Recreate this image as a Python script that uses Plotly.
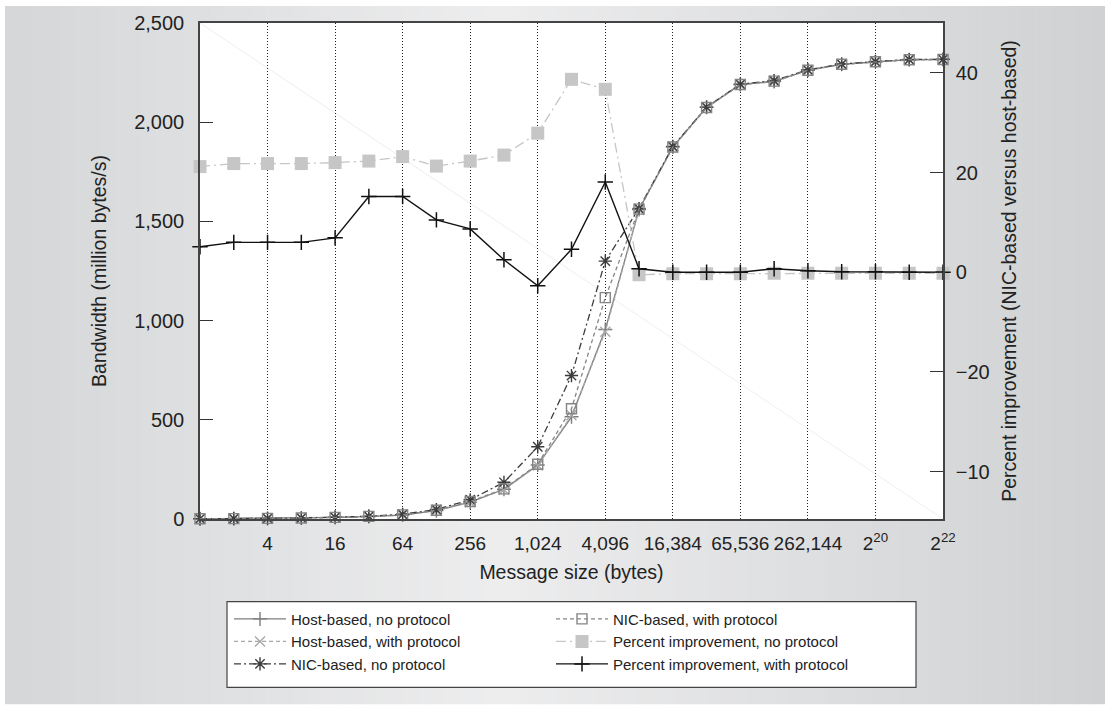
import plotly.graph_objects as go

# ---------------- data ----------------
message_sizes = [1, 2, 4, 8, 16, 32, 64, 128, 256, 512, 1024, 2048, 4096, 8192,
                 16384, 32768, 65536, 131072, 262144, 524288, 1048576, 2097152, 4194304]

host_no_protocol = [1, 2, 3, 5, 8, 12, 20, 42, 85, 150, 272, 515, 955, 1560,
                    1875, 2075, 2190, 2205, 2262, 2292, 2305, 2315, 2316]
host_with_protocol = [1, 2, 3, 5, 8, 12, 20, 42, 85, 148, 270, 523, 944, 1558,
                      1873, 2073, 2188, 2204, 2261, 2291, 2304, 2314, 2315]
nic_no_protocol = [1, 2, 3, 5, 9, 14, 24, 48, 97, 185, 364, 723, 1300, 1565,
                   1878, 2076, 2192, 2210, 2264, 2293, 2306, 2316, 2317]
nic_with_protocol = [1, 2, 3, 5, 8, 13, 21, 44, 88, 152, 276, 556, 1116, 1562,
                     1875, 2074, 2190, 2207, 2262, 2292, 2305, 2315, 2316]

pct_no_protocol = [21.2, 21.8, 21.8, 21.8, 22.0, 22.3, 23.2, 21.3, 22.3, 23.5, 27.9,
                   38.7, 36.7, -0.5, -0.3, -0.3, -0.3, -0.2, -0.2, -0.2, -0.2, -0.2, -0.2]
pct_with_protocol = [5.1, 6.0, 6.0, 6.0, 6.9, 15.2, 15.2, 10.5, 8.7, 2.5, -2.7,
                     4.6, 18.1, 0.7, 0.0, 0.0, 0.0, 0.7, 0.3, 0.1, 0.1, 0.0, 0.0]

x_tick_vals = [4, 16, 64, 256, 1024, 4096, 16384, 65536, 262144, 1048576, 4194304]
x_tick_text = ["4", "16", "64", "256", "1,024", "4,096", "16,384", "65,536",
               "262,144", "2<sup>20</sup>", "2<sup>22</sup>"]
y2_tick_vals = [40, 20, 0, -20, -40]
y2_tick_text = ["40", "20", "0", "\u221220", "\u221210"]

FONT = "Liberation Sans, Arial, Helvetica, sans-serif"
W, H = 1105, 705
ML, MR, MT, MB = 200, 162, 21, 186
PW, PH = W - ML - MR, H - MT - MB

fig = go.Figure()


def add(name, y, yaxis, color, dash, symbol, msize, rank, lw=1.3, mlw=1.4, mcolor=None):
    fig.add_trace(go.Scatter(
        x=message_sizes, y=y, name=name, yaxis=yaxis, mode="lines+markers",
        line=dict(color=color, width=lw, dash=dash),
        marker=dict(symbol=symbol, size=msize, color=mcolor or color,
                    line=dict(width=mlw, color=mcolor or color)),
        legendrank=rank, cliponaxis=False,
    ))


add("Host-based, no protocol", host_no_protocol, "y", "#7c7c7c", "solid",
    "cross-thin-open", 10, 1)
add("Host-based, with protocol", host_with_protocol, "y", "#a8a8a8", "4px,3px",
    "x-thin-open", 10, 3)
add("NIC-based, no protocol", nic_no_protocol, "y", "#3c3c3c", "7px,3px,2px,3px",
    "asterisk-open", 11, 5)
add("NIC-based, with protocol", nic_with_protocol, "y", "#858585", "4px,3px",
    "square-open", 10, 2)
add("Percent improvement, no protocol", pct_no_protocol, "y2", "#c6c6c6",
    "10px,4px,2px,4px", "square", 13, 4, lw=1.3, mlw=0)
add("Percent improvement, with protocol", pct_with_protocol, "y2", "#111111", "solid",
    "cross-thin-open", 11, 6, lw=1.4, mlw=1.5)

# ---------------- background gradient ----------------
def px2paper_x(px):
    return (px - ML) / PW


def px2paper_y(py):
    return (H - MB - py) / PH


stops = [(0.0, (212, 214, 216)), (0.45, (237, 237, 238)), (1.0, (207, 209, 211))]


def grad(t):
    for (t0, c0), (t1, c1) in zip(stops[:-1], stops[1:]):
        if t0 <= t <= t1:
            f = (t - t0) / (t1 - t0)
            return "rgb(%d,%d,%d)" % tuple(round(a + (b - a) * f) for a, b in zip(c0, c1))
    return "rgb(%d,%d,%d)" % stops[-1][1]


shapes = []
n = 80
x0px, x1px = 5, W
for i in range(n):
    a = x0px + (x1px - x0px) * i / n
    b = x0px + (x1px - x0px) * (i + 1) / n + 0.6
    shapes.append(dict(type="rect", xref="paper", yref="paper", layer="below",
                       x0=px2paper_x(a), x1=px2paper_x(b),
                       y0=px2paper_y(H), y1=px2paper_y(4),
                       fillcolor=grad((a + b) / 2 / W), line=dict(width=0)))
shapes.append(dict(type="rect", xref="paper", yref="paper", layer="below",
                   x0=0, x1=1, y0=0, y1=1, fillcolor="white", line=dict(width=0)))
shapes.append(dict(type="line", xref="paper", yref="paper", layer="below",
                   x0=0, y0=1, x1=1, y1=0, line=dict(color="#eeeeee", width=1)))
# legend frame
shapes.append(dict(type="rect", xref="paper", yref="paper", layer="below",
                   x0=px2paper_x(227), x1=px2paper_x(916),
                   y0=px2paper_y(688), y1=px2paper_y(602),
                   fillcolor="white", line=dict(color="#444444", width=1.2)))

fig.update_layout(
    width=W, height=H,
    margin=dict(l=ML, r=MR, t=MT, b=MB),
    paper_bgcolor="white", plot_bgcolor="white",
    font=dict(family=FONT, size=20, color="#222222"),
    shapes=shapes,
    showlegend=True,
    legend=dict(orientation="h", x=px2paper_x(229), xanchor="left",
                y=px2paper_y(603), yanchor="top",
                bgcolor="rgba(0,0,0,0)", borderwidth=0,
                font=dict(family=FONT, size=15, color="#222222"),
                entrywidth=255, itemwidth=52, traceorder="normal"),
    xaxis=dict(type="log", range=[0, 6.6227], tickvals=x_tick_vals, ticktext=x_tick_text,
               tickangle=0, tickfont=dict(size=19, family=FONT),
               showgrid=True, gridcolor="#222222", gridwidth=1, griddash="1px,2px",
               showline=True, linecolor="#444444", linewidth=1.5, mirror=True,
               ticks="", zeroline=False, ticklabelstandoff=6,
               title=dict(text="Message size (bytes)", standoff=13,
                          font=dict(size=19.5, family=FONT))),
    yaxis=dict(range=[0, 2500], tickvals=[0, 500, 1000, 1500, 2000, 2500],
               tickformat=",d", showgrid=False, zeroline=False,
               showline=True, linecolor="#444444", linewidth=1.5,
               ticks="inside", ticklen=13, tickcolor="#333333", tickwidth=1.2,
               ticklabelstandoff=10,
               title=dict(text="Bandwidth (million bytes/s)", standoff=22,
                          font=dict(size=19.5, family=FONT))),
    yaxis2=dict(overlaying="y", side="right", range=[-49.5, 50],
                tickvals=y2_tick_vals, ticktext=y2_tick_text,
                showgrid=False, zeroline=False,
                showline=True, linecolor="#444444", linewidth=1.5,
                ticks="inside", ticklen=13, tickcolor="#333333", tickwidth=1.2,
                ticklabelstandoff=7,
                title=dict(text="Percent improvement (NIC-based versus host-based)",
                           standoff=14, font=dict(size=19.5, family=FONT))),
)

fig.write_html("out.html")
